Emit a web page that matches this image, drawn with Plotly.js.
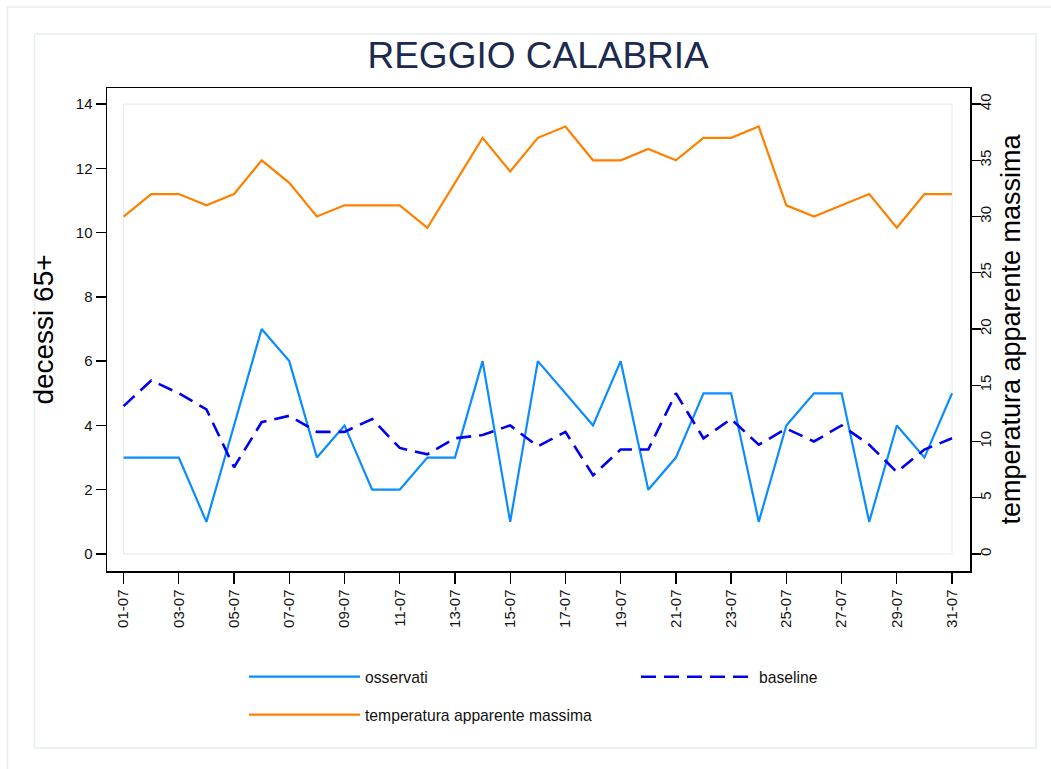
<!DOCTYPE html>
<html>
<head>
<meta charset="utf-8">
<script src="https://cdn.plot.ly/plotly-3.0.1.min.js"></script>
<style>
  body { margin: 0; background: #fff; }
  #chart { width: 1051px; height: 769px; }
</style>
</head>
<body>
<div id="chart"></div>
<script>
// giorni di luglio
const giorni = ["01-07","02-07","03-07","04-07","05-07","06-07","07-07","08-07","09-07","10-07",
  "11-07","12-07","13-07","14-07","15-07","16-07","17-07","18-07","19-07","20-07",
  "21-07","22-07","23-07","24-07","25-07","26-07","27-07","28-07","29-07","30-07","31-07"];

// decessi osservati 65+
const osservati = [3,3,3,1,4,7,6,3,4,2,2,3,3,6,1,6,5,4,6,2,3,5,5,1,4,5,5,1,4,3,5];

// baseline attesa
const baseline = [4.6,5.4,5.0,4.5,2.7,4.1,4.3,3.8,3.8,4.2,3.3,3.1,3.6,3.7,4.0,3.35,
  3.8,2.45,3.25,3.25,5.0,3.6,4.2,3.4,3.9,3.5,4.0,3.4,2.55,3.25,3.6];

// temperatura apparente massima (asse destro)
const temperatura = [30,32,32,31,32,35,33,30,31,31,31,29,33,37,34,37,38,35,35,36,
  35,37,37,38,31,30,31,32,29,32,32];

const tickGiorni = giorni.filter((g, i) => i % 2 === 0);
const tickSx = [0,2,4,6,8,10,12,14];
const tickDx = [0,5,10,15,20,25,30,35,40];

const font = "Liberation Sans, Arial, sans-serif";
const legFont = { family: font, size: 15.7, color: "#111" };

const traces = [
  { x: giorni, y: osservati, name: "osservati", type: "scatter", mode: "lines",
    line: { color: "#0a8cff", width: 2.2 }, legend: "legend" },
  { x: giorni, y: baseline, name: "baseline", type: "scatter", mode: "lines",
    line: { color: "#0000f0", width: 2.6, dash: "15px,8px" }, legend: "legend3" },
  { x: giorni, y: temperatura, name: "temperatura apparente massima", type: "scatter", mode: "lines",
    line: { color: "#ff8000", width: 2.2 }, yaxis: "y2", legend: "legend2" }
];

const layout = {
  width: 1051, height: 769,
  margin: { l: 107, r: 81, t: 88, b: 198 },
  paper_bgcolor: "#fff", plot_bgcolor: "#fff",
  font: { family: font, size: 14, color: "#111" },
  title: {
    text: "REGGIO CALABRIA",
    font: { family: font, size: 37, color: "#1c2a50" },
    x: 0.512, xref: "container", xanchor: "center",
    y: 0.928, yref: "container", yanchor: "middle"
  },
  xaxis: {
    type: "category", range: [-0.6, 30.65],
    tickvals: tickGiorni, ticktext: tickGiorni, tickangle: -90,
    ticks: "outside", ticklen: 11, tickwidth: 1.3, tickcolor: "#000",
    showline: true, linecolor: "#000", linewidth: 1.5, mirror: true,
    showgrid: false, zeroline: false,
    tickfont: { family: font, size: 15, color: "#111" }
  },
  yaxis: {
    range: [-0.53, 14.5], tickvals: tickSx,
    ticks: "outside", ticklen: 10, tickwidth: 1.3, tickcolor: "#000",
    showline: true, linecolor: "#000", linewidth: 1.5, mirror: true,
    showgrid: false, zeroline: false,
    tickfont: { family: font, size: 15, color: "#111" },
    title: { text: "decessi 65+", font: { family: font, size: 28, color: "#000" }, standoff: 14 }
  },
  yaxis2: {
    overlaying: "y", side: "right",
    range: [-0.53 * 40 / 14, 14.5 * 40 / 14], tickvals: tickDx, tickangle: -90,
    ticks: "outside", ticklen: 10, tickwidth: 1.3, tickcolor: "#000",
    ticklabelstandoff: -8,
    showgrid: false, zeroline: false, showline: false,
    tickfont: { family: font, size: 15, color: "#111" },
    title: { text: "temperatura apparente massima", font: { family: font, size: 27, color: "#000" }, standoff: 8 }
  },
  showlegend: true,
  legend: {
    orientation: "h", x: (244 - 107) / 863, xref: "paper", y: -(677 - 571) / 483, yanchor: "middle",
    itemwidth: 111, font: legFont, bgcolor: "rgba(0,0,0,0)"
  },
  legend3: {
    orientation: "h", x: (636 - 107) / 863, xref: "paper", y: -(677 - 571) / 483, yanchor: "middle",
    itemwidth: 113, font: legFont, bgcolor: "rgba(0,0,0,0)"
  },
  legend2: {
    orientation: "h", x: (244 - 107) / 863, xref: "paper", y: -(715 - 571) / 483, yanchor: "middle",
    itemwidth: 111, font: legFont, bgcolor: "rgba(0,0,0,0)"
  },
  shapes: [
    // cornice esterna e area grafico (stile Stata)
    { type: "rect", xref: "paper", yref: "paper", x0: -99.5/863, x1: 1090/863, y0: -230/483, y1: 1.0 + 81/483,
      line: { color: "#e8eef0", width: 1.5 }, layer: "below" },
    { type: "rect", xref: "paper", yref: "paper", x0: -72.5/863, x1: 929/863, y0: -177/483, y1: 1.0 + 54/483,
      line: { color: "#e8eef0", width: 1.5 }, layer: "below" },
    // regione interna del plot
    { type: "rect", xref: "x", yref: "y", x0: 0, x1: 30, y0: 0, y1: 14,
      line: { color: "#e6eef4", width: 1.2 }, layer: "below" }
  ]
};

Plotly.newPlot("chart", traces, layout, { displayModeBar: false, staticPlot: true });
</script>
</body>
</html>
